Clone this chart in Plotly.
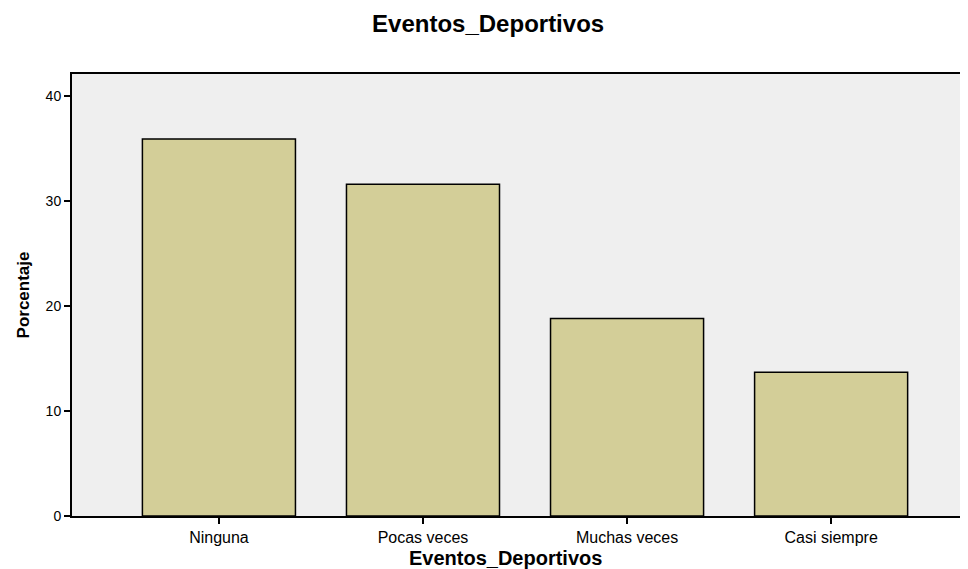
import plotly.graph_objects as go

categorias = ["Ninguna", "Pocas veces", "Muchas veces", "Casi siempre"]
porcentaje = [35.9, 31.6, 18.8, 13.7]
y_ticks = [0, 10, 20, 30, 40]

fig = go.Figure()
fig.add_trace(go.Bar(
    x=categorias, y=porcentaje,
    width=0.75,
    marker=dict(color="#D3CE98", line=dict(color="black", width=1.5)),
    hoverinfo="x+y",
))

fig.update_layout(
    width=968, height=569,
    margin=dict(l=64, r=0, t=66, b=61),
    paper_bgcolor="white",
    plot_bgcolor="#EFEFEF",
    showlegend=False,
    font=dict(family="Arial, Liberation Sans, sans-serif", size=14, color="black"),
    title=dict(
        text="<b>Eventos_Deportivos</b>",
        x=0.496, xanchor="center", y=0.972, yanchor="middle",
        font=dict(size=24),
    ),
    xaxis=dict(
        range=[-0.72, 3.71],
        showline=True, linecolor="black", linewidth=2, mirror=True,
        ticks="outside", ticklen=6, tickcolor="black", tickwidth=1.5,
        tickfont=dict(size=16),
        showgrid=False, zeroline=False,
    ),
    yaxis=dict(
        range=[0, 42.1],
        tickvals=y_ticks,
        showline=True, linecolor="black", linewidth=2,
        ticks="outside", ticklen=6, tickcolor="black", tickwidth=1.5,
        tickfont=dict(size=14),
        showgrid=False, zeroline=False,
        title=dict(text="<b>Porcentaje</b>", font=dict(size=17), standoff=12),
    ),
)

# título del eje x (ligeramente desplazado a la izquierda como en el original)
fig.add_annotation(
    text="<b>Eventos_Deportivos</b>",
    xref="paper", yref="paper", x=0.479, y=-0.095,
    xanchor="center", yanchor="middle", showarrow=False,
    font=dict(size=20),
)

fig.write_html("out.html")
